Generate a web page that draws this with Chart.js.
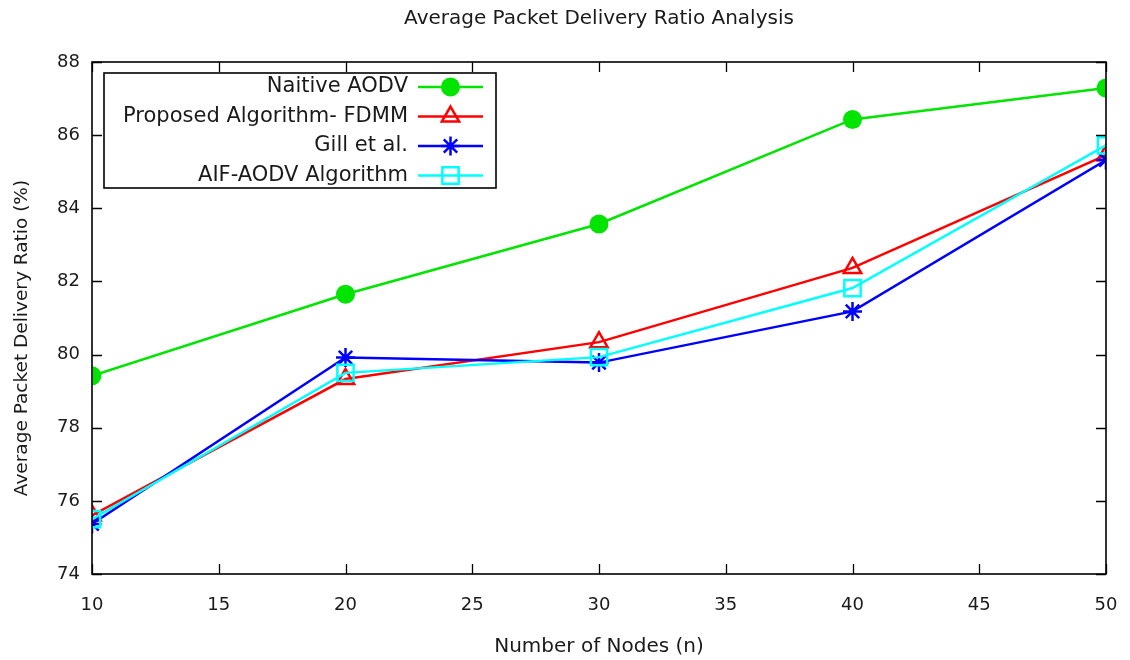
<!DOCTYPE html>
<html>
<head>
<meta charset="utf-8">
<script src="https://cdn.jsdelivr.net/npm/chart.js@4.4.1/dist/chart.umd.min.js"></script>
<style>
  html, body { margin: 0; padding: 0; background: #fff; }
  #wrap { width: 1130px; height: 660px; }
</style>
</head>
<body>
<div id="wrap"><canvas id="c" width="1130" height="660"></canvas></div>
<script>
// Number of nodes in the network
const nodes = [10, 20, 30, 40, 50];

// Average packet delivery ratio (%) per algorithm
const naitiveAodv = [79.42, 81.65, 83.57, 86.43, 87.29];
const proposedFdmm = [75.60, 79.33, 80.34, 82.37, 85.45];
const gillEtAl = [75.37, 79.92, 79.78, 81.18, 85.32];
const aifAodv = [75.50, 79.50, 79.93, 81.82, 85.72];

const xTicks = [10, 15, 20, 25, 30, 35, 40, 45, 50];
const yTicks = [74, 76, 78, 80, 82, 84, 86, 88];

const chartTitle = 'Average Packet Delivery Ratio Analysis';
const xTitle = 'Number of Nodes (n)';
const yTitle = 'Average Packet Delivery Ratio (%)';

const FONT = 'DejaVu Sans';
const TEXT = '#1a1a1a';

const toPoints = vals => vals.map((v, i) => ({ x: nodes[i], y: v }));

// Gnuplot-like frame: border on all four sides with inward ticks, plus titles
const framePlugin = {
  id: 'frame',
  afterDatasetsDraw(chart) {
    const { ctx, chartArea: a, scales: { x, y } } = chart;
    ctx.save();
    ctx.strokeStyle = '#000';
    ctx.lineWidth = 1.6;
    ctx.strokeRect(a.left, a.top, a.right - a.left, a.bottom - a.top);
    ctx.lineWidth = 1.3;
    ctx.beginPath();
    const tl = 10;
    xTicks.forEach(v => {
      const px = Math.round(x.getPixelForValue(v)) + 0.5;
      ctx.moveTo(px, a.bottom); ctx.lineTo(px, a.bottom - tl);
      ctx.moveTo(px, a.top); ctx.lineTo(px, a.top + tl);
    });
    yTicks.forEach(v => {
      const py = Math.round(y.getPixelForValue(v)) + 0.5;
      ctx.moveTo(a.left, py); ctx.lineTo(a.left + tl, py);
      ctx.moveTo(a.right, py); ctx.lineTo(a.right - tl, py);
    });
    ctx.stroke();

    ctx.fillStyle = TEXT;
    ctx.textAlign = 'center';
    ctx.textBaseline = 'middle';
    ctx.font = '20px "' + FONT + '"';
    ctx.fillText(chartTitle, (a.left + a.right) / 2, 19);
    ctx.fillText(xTitle, (a.left + a.right) / 2, 647);
    ctx.font = '18.5px "' + FONT + '"';
    ctx.translate(22, (a.top + a.bottom) / 2 + 20);
    ctx.rotate(-Math.PI / 2);
    ctx.fillText(yTitle, 0, 0);
    ctx.restore();
  }
};

// Boxed key in the upper left: right-aligned labels, then line sample with marker
const keyPlugin = {
  id: 'key',
  afterDraw(chart) {
    const { ctx, chartArea: a } = chart;
    const left = a.left + 12, top = a.top + 11;
    const w = 392, h = 115;
    ctx.save();
    ctx.fillStyle = '#fff';
    ctx.fillRect(left, top, w, h);
    ctx.strokeStyle = '#000';
    ctx.lineWidth = 1.6;
    ctx.strokeRect(left, top, w, h);
    ctx.font = '21px "' + FONT + '"';
    ctx.textAlign = 'right';
    ctx.textBaseline = 'middle';
    const textRight = left + 304;
    const lineL = left + 314, lineR = left + 379;
    chart.data.datasets.forEach((ds, i) => {
      const yy = top + 14 + i * 29.5;
      ctx.fillStyle = TEXT;
      ctx.fillText(ds.label, textRight, yy);
      ctx.strokeStyle = ds.borderColor;
      ctx.lineWidth = ds.borderWidth;
      ctx.beginPath();
      ctx.moveTo(lineL, yy); ctx.lineTo(lineR, yy);
      ctx.stroke();
      ctx.fillStyle = ds.pointBackgroundColor;
      ctx.strokeStyle = ds.pointBorderColor;
      ctx.lineWidth = ds.pointBorderWidth;
      Chart.helpers.drawPoint(ctx, { pointStyle: ds.pointStyle, radius: ds.pointRadius, rotation: 0, borderWidth: ds.pointBorderWidth }, (lineL + lineR) / 2, yy);
    });
    ctx.restore();
  }
};

new Chart(document.getElementById('c'), {
  type: 'line',
  data: {
    datasets: [
      {
        label: 'Naitive AODV', data: toPoints(naitiveAodv),
        borderColor: '#00e400', borderWidth: 2.5,
        pointStyle: 'circle', pointRadius: 9.5,
        pointBackgroundColor: '#00e400', pointBorderColor: '#00e400', pointBorderWidth: 0,
        order: 4
      },
      {
        label: 'Proposed Algorithm- FDMM', data: toPoints(proposedFdmm),
        borderColor: '#ff0000', borderWidth: 2.5,
        pointStyle: 'triangle', pointRadius: 10,
        pointBackgroundColor: 'rgba(0,0,0,0)', pointBorderColor: '#ff0000', pointBorderWidth: 2.5,
        order: 3
      },
      {
        label: 'Gill et al.', data: toPoints(gillEtAl),
        borderColor: '#0000ff', borderWidth: 2.5,
        pointStyle: 'star', pointRadius: 9.5,
        pointBackgroundColor: 'rgba(0,0,0,0)', pointBorderColor: '#0000ff', pointBorderWidth: 2.5,
        order: 2
      },
      {
        label: 'AIF-AODV Algorithm', data: toPoints(aifAodv),
        borderColor: '#00ffff', borderWidth: 2.5,
        pointStyle: 'rect', pointRadius: 11.5,
        pointBackgroundColor: 'rgba(0,0,0,0)', pointBorderColor: '#00ffff', pointBorderWidth: 2.5,
        order: 1
      }
    ]
  },
  options: {
    responsive: false,
    animation: false,
    events: [],
    layout: { padding: { left: 0, right: 24, top: 62, bottom: 0 } },
    plugins: {
      legend: { display: false },
      tooltip: { enabled: false },
      title: { display: false }
    },
    scales: {
      x: {
        type: 'linear', min: 10, max: 50,
        afterBuildTicks: s => { s.ticks = xTicks.map(v => ({ value: v })); },
        afterFit: s => { s.height = 86; s.paddingLeft = 0; s.paddingRight = 0; },
        grid: { display: false, drawTicks: false },
        border: { display: false },
        ticks: { color: TEXT, font: { family: FONT, size: 18 }, padding: 21, maxRotation: 0 }
      },
      y: {
        type: 'linear', min: 74, max: 88,
        afterBuildTicks: s => { s.ticks = yTicks.map(v => ({ value: v })); },
        afterFit: s => { s.width = 92; s.paddingTop = 0; s.paddingBottom = 0; },
        grid: { display: false, drawTicks: false },
        border: { display: false },
        ticks: { color: TEXT, font: { family: FONT, size: 18 }, padding: 12 }
      }
    }
  },
  plugins: [framePlugin, keyPlugin]
});
</script>
</body>
</html>
